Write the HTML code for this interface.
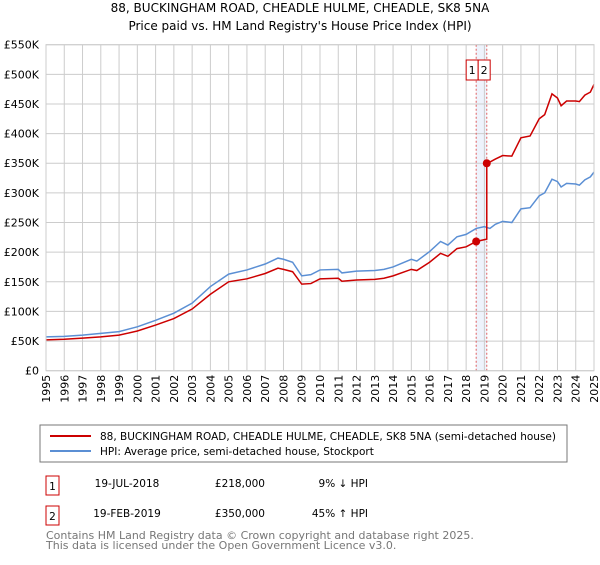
<!DOCTYPE html>
<html><head><meta charset="utf-8"><style>
body{margin:0;background:#fff;font-family:"Liberation Sans","DejaVu Sans",sans-serif;}
svg text{font-family:"DejaVu Sans","Liberation Sans",sans-serif;}
</style></head><body>
<svg id="chart" width="600" height="560" xmlns="http://www.w3.org/2000/svg">
<text x="300" y="12" text-anchor="middle" font-size="12">88, BUCKINGHAM ROAD, CHEADLE HULME, CHEADLE, SK8 5NA</text>
<text x="300" y="30" text-anchor="middle" font-size="12">Price paid vs. HM Land Registry's House Price Index (HPI)</text>
<g id="grid"></g><g id="series"></g><g id="axes"></g>
<rect x="40" y="425" width="527" height="37" fill="none" stroke="#777"/>
<line x1="50" y1="436" x2="91" y2="436" stroke="#cc0000" stroke-width="2"/>
<text x="100" y="440" font-size="10.5">88, BUCKINGHAM ROAD, CHEADLE HULME, CHEADLE, SK8 5NA (semi-detached house)</text>
<line x1="50" y1="451" x2="91" y2="451" stroke="#5b8fd4" stroke-width="2"/>
<text x="100" y="455" font-size="10.5">HPI: Average price, semi-detached house, Stockport</text>
<g font-size="10.5">
<rect x="46" y="476" width="13" height="19" fill="none" stroke="#cc0000"/>
<text x="52.5" y="490" text-anchor="middle">1</text>
<text x="127" y="487" text-anchor="middle">19-JUL-2018</text>
<text x="265" y="487" text-anchor="end">£218,000</text>
<text x="368" y="487" text-anchor="end">9% ↓ HPI</text>
<rect x="46" y="506" width="13" height="19" fill="none" stroke="#cc0000"/>
<text x="52.5" y="520" text-anchor="middle">2</text>
<text x="127" y="517" text-anchor="middle">19-FEB-2019</text>
<text x="265" y="517" text-anchor="end">£350,000</text>
<text x="368" y="517" text-anchor="end">45% ↑ HPI</text>
</g>
<text x="46" y="539" font-size="11" fill="#777">Contains HM Land Registry data © Crown copyright and database right 2025.</text>
<text x="46" y="549" font-size="11" fill="#777">This data is licensed under the Open Government Licence v3.0.</text>
</svg>
<script>
const hpiYears=[1995,1996,1997,1998,1999,2000,2001,2002,2003,2004,2005,2006,2007,2007.7,2008,2008.5,2009,2009.5,2010,2011,2011.2,2012,2013,2013.5,2014,2015,2015.3,2016,2016.6,2017,2017.5,2018,2018.55,2019,2019.3,2019.6,2020,2020.5,2021,2021.5,2022,2022.3,2022.7,2023,2023.2,2023.5,2024,2024.2,2024.5,2024.8,2025];
const hpiValues=[57,58,60,63,66,74,85,97,114,142,163,170,180,190,188,183,160,162,170,171,165,168,169,171,175,188,185,201,218,212,226,230,240,243,240,247,252,250,273,275,295,300,323,319,310,316,315,313,322,327,335];
const priceYears=[1995,1996,1997,1998,1999,2000,2001,2002,2003,2004,2005,2006,2007,2007.7,2008,2008.5,2009,2009.5,2010,2011,2011.2,2012,2013,2013.5,2014,2015,2015.3,2016,2016.6,2017,2017.5,2018,2018.55,2019.13,2019.13,2019.3,2019.6,2020,2020.5,2021,2021.5,2022,2022.3,2022.7,2023,2023.2,2023.5,2024,2024.2,2024.5,2024.8,2025];
const priceValues=[52,53,55,57,60,67,77,88,104,129,150,155,164,173,171,167,146,147,155,156,151,153,154,156,160,171,169,183,198,193,206,209,218,222,350,352,357,363,362,393,396,425,432,467,460,447,455,455,454,465,470,483];
const saleYears=[2018.55,2019.13];
const saleValues=[218,350];
const saleLabels=["1","2"];
const yTicks=[0,50,100,150,200,250,300,350,400,450,500,550];
const yTickLabels=["£0","£50K","£100K","£150K","£200K","£250K","£300K","£350K","£400K","£450K","£500K","£550K"];
const xTicks=[1995,1996,1997,1998,1999,2000,2001,2002,2003,2004,2005,2006,2007,2008,2009,2010,2011,2012,2013,2014,2015,2016,2017,2018,2019,2020,2021,2022,2023,2024,2025];

const L=46,R=594,T=44.7,B=370.7,X0=1995,X1=2025,Ymax=550;
const xs=v=>L+(v-X0)/(X1-X0)*(R-L);
const ys=v=>B-v/Ymax*(B-T);
const NS="http://www.w3.org/2000/svg";
function mk(tag,attrs,parent){const e=document.createElementNS(NS,tag);for(const k in attrs)e.setAttribute(k,attrs[k]);parent.appendChild(e);return e;}
const grid=document.getElementById('grid'),series=document.getElementById('series'),axes=document.getElementById('axes');
const band=mk('rect',{x:xs(saleYears[0]),y:T,width:xs(saleYears[1])-xs(saleYears[0]),height:B-T,fill:'#eef3fc'},grid);


yTicks.forEach((t,i)=>{
  const l=mk('line',{x1:L,x2:R,y1:ys(t),y2:ys(t),stroke:'#ccc','stroke-width':1},grid);
  
  
  const tx=mk('text',{x:L-7,y:ys(t)+4,'text-anchor':'end','font-size':11},axes);
  tx.textContent=yTickLabels[i];
  
  
});
xTicks.forEach(t=>{
  const l=mk('line',{x1:xs(t),x2:xs(t),y1:T,y2:B,stroke:'#ccc','stroke-width':1},grid);
  
  
  const tx=mk('text',{x:0,y:0,'text-anchor':'end','font-size':11,transform:`translate(${xs(t)+4},${B+4}) rotate(-90)`},axes);
  tx.textContent=t;
  
  
});
saleYears.forEach((s,i)=>{
  const l=mk('line',{x1:xs(s),x2:xs(s),y1:T,y2:B,stroke:'#e06060','stroke-width':1,'stroke-dasharray':'2,2'},grid);
  
  
});
const hp=mk('polyline',{points:hpiYears.map((y,i)=>xs(y)+','+ys(hpiValues[i])).join(' '),fill:'none',stroke:'#5b8fd4','stroke-width':1.5},series);


const pp=mk('polyline',{points:priceYears.map((y,i)=>xs(y)+','+ys(priceValues[i])).join(' '),fill:'none',stroke:'#cc0000','stroke-width':1.5},series);


const badgeX0=xs(saleYears[0])-10;
saleYears.forEach((s,i)=>{
  const c=mk('circle',{cx:xs(s),cy:ys(saleValues[i]),r:4,fill:'#cc0000'},series);
  
  
  const bxX=badgeX0+i*12;
  const bx=mk('rect',{x:bxX,y:60,width:12,height:20,fill:'#fff',stroke:'#cc0000'},series);
  
  
  const tx=mk('text',{x:bxX+6,y:74,'text-anchor':'middle','font-size':11},series);
  tx.textContent=saleLabels[i];
  
  
});
const fr=mk('rect',{x:L,y:T,width:R-L,height:B-T,fill:'none',stroke:'#ccc'},axes);


</script>
</body></html>
